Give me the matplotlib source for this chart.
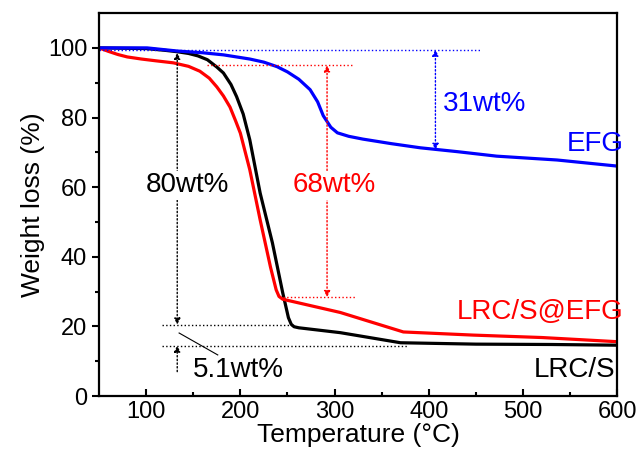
import matplotlib.pyplot as plt

plt.rcParams['font.family'] = ['Liberation Sans', 'DejaVu Sans']

# --- data ---
t_lrcs = [50, 100, 120, 133, 145, 155, 165, 175, 182, 190, 196, 203, 210, 221, 234, 245, 251, 254,
          257, 262, 306, 370, 450, 530, 600]
w_lrcs = [100, 99.8, 99.3, 98.9, 98.4, 97.7, 96.6, 94.5, 92.8, 89.5, 86, 81, 73.6, 58.3, 44, 29.6,
          22.5, 20.6, 19.9, 19.6, 18.2, 15.3, 14.9, 14.8, 14.6]

t_lrcs_efg = [50, 60, 70, 80, 95, 110, 129, 145, 157, 167, 175, 182, 189, 195, 200, 210, 221, 232,
              238, 241, 245, 306, 373, 447, 520, 600]
w_lrcs_efg = [100, 99.0, 98.1, 97.4, 96.8, 96.3, 95.7, 94.7, 93.3, 91.3, 88.8, 86.2, 83, 79, 75.5,
              65, 50.6, 37, 30.5, 28.6, 27.8, 24, 18.4, 17.5, 16.8, 15.6]

t_efg = [50, 101, 133, 160, 182, 210, 225, 239, 250, 262, 274, 282, 288, 296, 303, 315, 330, 360, 391,
         430, 472, 536, 598, 600]
w_efg = [100, 100, 99.1, 98.6, 98, 96.8, 95.9, 94.6, 93.1, 91, 88, 84.5, 80.5, 77.2, 75.6, 74.6,
         73.8, 72.5, 71.3, 70.2, 68.9, 67.8, 66.1, 66]

fig = plt.figure(figsize=(6.43, 4.67), dpi=100)
ax = fig.add_axes([0.154, 0.152, 0.806, 0.82])

ax.plot(t_lrcs, w_lrcs, color='black', lw=2.3)
ax.plot(t_lrcs_efg, w_lrcs_efg, color='red', lw=2.3)
ax.plot(t_efg, w_efg, color='blue', lw=2.3)

# guide lines
ax.plot([50, 455], [99.5, 99.5], color='blue', ls=':', lw=1)
ax.plot([165, 320], [95, 95], color='red', ls=':', lw=1)
ax.plot([245, 322], [28.4, 28.4], color='red', ls=':', lw=1)
ax.plot([117, 256], [20.5, 20.5], color='black', ls=':', lw=1)
ax.plot([117, 377], [14.5, 14.5], color='black', ls=':', lw=1)

arrow = dict(arrowstyle='<|-|>', ls=':', lw=1, mutation_scale=9, shrinkA=0, shrinkB=0)
ax.annotate('', xy=(407, 99.5), xytext=(407, 70.7), arrowprops=dict(arrow, color='blue'))
ax.annotate('', xy=(292, 95), xytext=(292, 28.4), arrowprops=dict(arrow, color='red'))
ax.annotate('', xy=(133, 98.6), xytext=(133, 20.5), arrowprops=dict(arrow, color='black'))
ax.annotate('', xy=(133, 14.5), xytext=(133, 7),
            arrowprops=dict(arrowstyle='-|>', ls=':', lw=1, color='black',
                            mutation_scale=9, shrinkA=0, shrinkB=0))
ax.plot([135, 176], [18.1, 11.8], color='black', lw=0.8)

ax.text(415, 84, '31wt%', color='blue', fontsize=20, va='center', ha='left')
ax.text(607, 72.5, 'EFG', color='blue', fontsize=20, va='center', ha='right')
ax.text(300, 60.5, '68wt%', color='red', fontsize=20, va='center', ha='center',
        bbox=dict(fc='white', ec='none', pad=1))
ax.text(144, 60.5, '80wt%', color='black', fontsize=20, va='center', ha='center',
        bbox=dict(fc='white', ec='none', pad=1))
ax.text(150, 7.5, '5.1wt%', color='black', fontsize=20, va='center', ha='left')
ax.text(607, 24, 'LRC/S@EFG', color='red', fontsize=20, va='center', ha='right')
ax.text(598, 7.5, 'LRC/S', color='black', fontsize=20, va='center', ha='right')

ax.set_xlim(50, 600)
ax.set_ylim(0, 110)
ax.set_xticks([100, 200, 300, 400, 500, 600])
ax.set_xticks([150, 250, 350, 450, 550], minor=True)
ax.set_yticks([0, 20, 40, 60, 80, 100])
ax.set_yticks([10, 30, 50, 70, 90], minor=True)
ax.tick_params(axis='x', which='both', direction='in', labelsize=17, width=1.5)
ax.tick_params(axis='y', which='both', direction='out', labelsize=17, width=1.5)
ax.tick_params(which='major', length=5)
ax.tick_params(which='minor', length=3)
for s in ax.spines.values():
    s.set_linewidth(1.6)

ax.set_xlabel('Temperature (°C)', fontsize=19, labelpad=0)
ax.set_ylabel('Weight loss (%)', fontsize=19, labelpad=2)

fig.savefig('out.png', dpi=100)
